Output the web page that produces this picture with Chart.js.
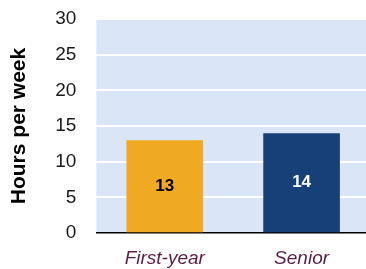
<!DOCTYPE html>
<html lang="en">
<head>
  <meta charset="UTF-8">
  <title>Hours per week</title>
  <script src="https://cdn.jsdelivr.net/npm/chart.js"></script>
  <style>
    html, body { margin: 0; padding: 0; background: #fff; overflow: hidden; }
    canvas { display: block; }
  </style>
</head>
<body>
  <canvas id="chart" width="370" height="269"></canvas>

  <script>
    const categories = ['First-year', 'Senior'];
    const hours = [13, 14];
    const barColors = ['#EFA922', '#173F78'];
    const labelColors = ['#000000', '#ffffff'];

    // fill the plot area light blue
    const plotBackground = {
      id: 'plotBackground',
      beforeDraw(chart) {
        const { ctx, chartArea: a } = chart;
        ctx.save();
        ctx.fillStyle = '#DAE5F7';
        ctx.fillRect(a.left, a.top, a.width, a.height);
        ctx.restore();
      }
    };

    // value in the middle of each bar
    const barValues = {
      id: 'barValues',
      afterDatasetsDraw(chart) {
        const ctx = chart.ctx;
        const meta = chart.getDatasetMeta(0);
        ctx.save();
        ctx.font = 'bold 17px "Liberation Sans", Arial, sans-serif';
        ctx.textAlign = 'center';
        ctx.textBaseline = 'middle';
        meta.data.forEach((bar, i) => {
          ctx.fillStyle = labelColors[i];
          ctx.fillText(hours[i], bar.x, (bar.y + bar.base) / 2);
        });
        ctx.restore();
      }
    };

    new Chart(document.getElementById('chart'), {
      type: 'bar',
      data: {
        labels: categories,
        datasets: [{
          data: hours,
          backgroundColor: barColors,
          barPercentage: 0.56,
          categoryPercentage: 1
        }]
      },
      options: {
        responsive: false,
        animation: false,
        layout: { padding: { left: 3, right: 0, top: 19, bottom: 0 } },
        plugins: { legend: { display: false }, tooltip: { enabled: false } },
        scales: {
          x: {
            grid: { display: false, drawTicks: false },
            border: { display: false },
            ticks: {
              color: '#5C1E48',
              padding: 14,
              font: { family: '"Liberation Sans", Arial, sans-serif', size: 19, style: 'italic' }
            },
            afterFit: s => { s.height = 36; }
          },
          y: {
            min: 0,
            max: 30,
            ticks: {
              stepSize: 5,
              color: '#1a1a1a',
              padding: 20,
              font: { family: '"Liberation Sans", Arial, sans-serif', size: 19 }
            },
            grid: {
              drawTicks: false,
              color: c => c.tick.value === 0 ? '#000000' : '#ffffff',
              lineWidth: c => c.tick.value === 0 ? 1.5 : 2
            },
            border: { display: false },
            title: {
              display: true,
              text: 'Hours per week',
              color: '#000',
              padding: { top: 4, bottom: 3 },
              font: { family: '"Liberation Sans", Arial, sans-serif', size: 21, weight: 'bold' }
            },
            afterFit: s => { s.paddingTop = 0; s.paddingBottom = 0; }
          }
        }
      },
      plugins: [plotBackground, barValues]
    });
  </script>
</body>
</html>
